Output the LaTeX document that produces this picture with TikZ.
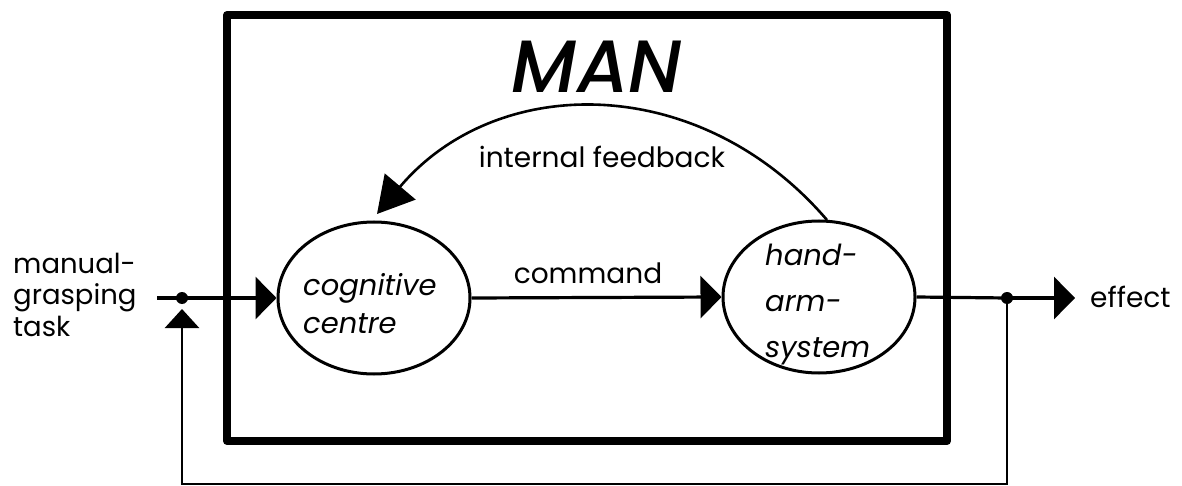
\documentclass[tikz,border=0pt]{standalone}
\usepackage{fontspec}
\setmainfont{Poppins}
\newfontfamily\titlefont{Poppins Medium Italic}
\usetikzlibrary{arrows.meta,shapes.geometric}

\tikzset{
  frame/.style={line width=8pt, line join=round},
  wire/.style={line width=3.2pt},
  thin wire/.style={line width=2.6pt},
  unit/.style={ellipse, draw, line width=3pt, inner sep=0pt,
               minimum width=192pt, minimum height=152pt},
  unit text/.style={align=left, inner sep=0pt, anchor=base west},
  junction/.style={circle, fill, inner sep=0pt, minimum size=12pt},
  label text/.style={font=\fontsize{27}{32}\selectfont, inner sep=0pt},
  head/.style={-{Triangle[length=21pt,width=42pt]}},
}

\begin{document}
\begin{tikzpicture}[x=1pt,y=-1pt]
\useasboundingbox (0,0) rectangle (1182,486);

% the human operator
\draw[frame] (227,15) rectangle (947,441);
\node[font=\fontsize{74}{80}\selectfont\titlefont, inner sep=0pt, anchor=base]
  (man) at (597,93) {MAN};

% the two internal units (the base of a text block is its last line)
\node[unit] (cog) at (374,298) {};
\node[unit text, font=\fontsize{29}{38}\selectfont\itshape]
  (cogtext) at (303,333) {cognitive\\centre};
\node[unit] (hand) at (819,297) {};
\node[unit text, font=\fontsize{29}{46}\selectfont\itshape]
  (handtext) at (765,357) {hand-\\arm-\\system};

% signal points
\coordinate (in) at (157,298);
\node[junction] (j1) at (182,298) {};
\node[junction] (j2) at (1007,298) {};
\coordinate (out) at (1075,298);
\coordinate (fbR) at (1007,484);
\coordinate (fbL) at (182,484);
\coordinate (fbTip) at (182,309);

% forward path
\draw[wire] (in) -- (j1.center);
\draw[wire, head] (j1.center) -- (cog.west);
\draw[wire, head] (cog.east) -- (hand.west);
\node[label text, font=\fontsize{28}{32}\selectfont, anchor=base] (cmd) at (588,283) {command};
\draw[wire] (hand.east) -- (j2.center);
\draw[wire, head] (j2.center) -- (out);

% external feedback loop
\draw[thin wire, -{Triangle[length=19pt,width=34pt]}]
  (j2.center) -- (fbR) -- (fbL) -- (fbTip);

% internal feedback
\coordinate (ifS) at (827,220);
\coordinate (ifE) at (377,214);
\draw[thin wire, -{Triangle[length=36pt,width=40pt]}]
  (ifS) .. controls (700,72) and (497,72) .. (ifE);
\node[label text, font=\fontsize{28}{32}\selectfont, anchor=base] (ifb) at (602,168) {internal feedback};

% outside labels
\node[label text, align=left, anchor=base west, font=\fontsize{27.5}{31.5}\selectfont]
  (task) at (13,336) {manual-\\grasping\\task};
\node[label text, font=\fontsize{28}{32}\selectfont, anchor=base west] (eff) at (1090,307) {effect};
\end{tikzpicture}
\end{document}
